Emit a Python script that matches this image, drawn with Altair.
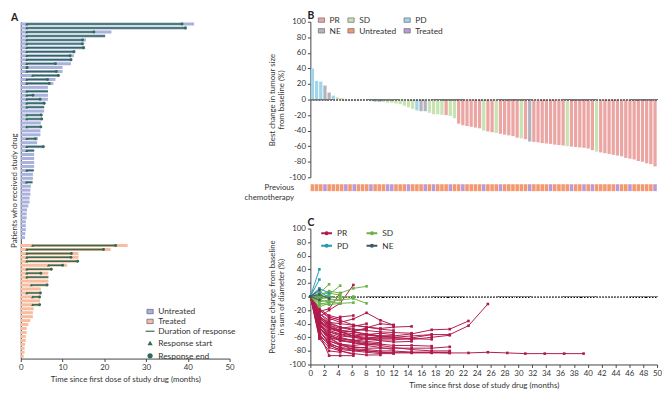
import altair as alt
import pandas as pd

FONT = "Lato"
TXT = "#333333"
GREEN = "#2f6b55"

# ---------------- Panel A data ----------------
untreated_len = [41.5, 39.8, 21.7, 20.2, 15.6, 15.2, 15.4, 13.1, 12.7, 12.3,
                 12.0, 10.0, 10.0, 9.2, 8.3, 7.8, 6.5, 6.5, 6.5, 6.5,
                 5.8, 5.6, 5.6, 5.0, 5.0, 4.8, 4.8, 4.7, 4.7, 4.1,
                 3.9, 5.5, 3.2, 3.2, 3.2, 3.2, 3.2, 3.1, 2.9, 2.9,
                 2.8, 2.4, 2.3, 2.3, 2.1, 2.1, 1.8, 1.5, 1.4, 1.4,
                 1.2, 1.2, 1.2, 1.1, 1.0]
untreated_start = [1.4, 1.4, 1.4, 1.4, 1.4, 1.4, 1.4, 1.4, 1.4, 1.4,
                   1.4, 1.4, 1.4, 2.8, 1.4, 1.4, None, 1.4, 1.4, 1.4,
                   1.4, 1.4, None, 1.4, 1.4, None, 1.4, None, None, 1.4,
                   None, 1.4, 1.4, None, None, None, None, 1.4, None, None,
                   1.3, None, None, None, None, None, None, None, None, None,
                   None, None, None, None, None]
untreated_end = [38.6, 39.4, 17.5, None, 14.8, 14.7, 15.0, 12.7, 11.8, 12.0,
                 8.3, 1.5, 8.5, 9.0, 6.4, 6.8, None, None, 2.9, 4.6,
                 5.6, None, None, 4.9, 5.0, None, 4.8, None, None, 3.5,
                 None, 5.4, None, None, None, None, None, None, None, None,
                 None, None, None, None, None, None, None, None, None, None,
                 None, None, None, None, None]

treated_len = [25.6, 21.5, 13.8, 13.8, 13.7, 11.1, 7.4, 6.6, 6.6, 6.6,
               6.4, 4.8, 4.8, 4.6, 4.6, 4.6, 3.1, 2.9, 2.9, 2.3,
               1.8, 1.4, 1.4, 1.2, 1.2, 1.0, 0.9, 0.9, 0.7]
treated_start = [2.8, 1.4, 1.4, 1.4, 1.4, 6.6, 1.4, 1.4, 1.4, None,
                 2.5, None, 1.4, 2.8, None, 2.8, None, None, None, None,
                 None, None, None, None, None, None, None, None, None]
treated_end = [22.7, 19.8, 12.1, 12.0, 13.6, 10.0, 7.3, 4.8, None, None,
               6.3, None, 4.7, 4.5, None, 4.5, None, None, None, None,
               None, None, None, None, None, None, None, None, None]

# ---------------- Panel B data ----------------
b_vals = [40, 24, 23, 18, 9, 5, 3, 2, 0.6, 0.4, 0.3, -0.3, -0.6, -1,
          -2, -3, -3, -3, -4, -4, -5, -6, -8, -10, -12,
          -14, -15, -15, -17, -19, -19, -19.5, -20, -21, -24,
          -31, -33, -34, -35, -36, -37, -40, -41, -42, -43,
          -44, -45, -46, -47, -49, -50, -51, -54, -54.5, -55,
          -56, -56.5, -57, -58, -58.5, -59, -60, -60.5, -61, -61.5,
          -62, -63, -65, -67, -68, -69, -70, -71, -72, -73,
          -75, -76, -77, -79, -80, -82, -83, -86]
b_cat = (["PD", "PD", "PD", "NE", "NE", "PD", "SD", "SD"]
         + ["SD", "SD", "SD", "SD", "SD", "SD"]
         + ["PD", "PD", "NE", "SD", "SD", "SD", "SD", "SD", "SD", "SD", "SD"]
         + ["PD", "NE", "NE", "SD", "SD", "SD", "SD", "PR", "SD", "SD"]
         + ["PR", "PR", "PR", "PR", "PR", "PR", "SD", "PR", "PR", "SD"]
         + ["PR", "PR", "PR", "PR", "PR", "SD", "PR", "NE", "PR", "PR"]
         + ["PR", "PR", "PR", "PR", "PR", "PR", "SD", "PR", "PR", "PR"]
         + ["PR", "PR", "PR", "SD", "PR", "PR", "PR", "PR", "PR", "PR"]
         + ["PR", "PR", "PR", "PR", "PR", "PR", "PR", "PR"])
chemo_code = list("UUUTUUUUTU" "TUUUTUUUTT" "UUUTUUUTUT" "UUUTUUTUUU"
                  "UTUUUTUUUU" "UUTUUUUTUU" "UUTUUTUTUU" "UUUTUUTUUU" "UUT")

# ---------------- Panel C data ----------------
c_times = [0, 1.3, 2.7, 4.3, 6.2, 8.1, 10.1, 12.0, 14.6, 17.5, 20.1, 22.8,
           25.6, 28.4, 31.0, 33.8, 36.6, 39.4]
c_pr = [
    [0, -40, -60, -70, -78, -80, -82, -83, -83, -83, -83, -83, -82, -83, -84, -84, -84, -84],
    [0, -30, -45, -52, -55, -57, -58, -58, -55, -49, -48, -36],
    [0, -35, -50, -55, -58, -60, -60, -60, -58, -56, -56, -43, -11],
    [0, -45, -62, -70, -74, -76, -76, -76, -76, -76, -74],
    [0, -50, -68, -76, -79, -80, -82, -82, -82, -82, -83],
    [0, -58, -70, -75, -77, -78, -80, -80, -82, -82, -82],
    [0, -45, -60, -65, -66, -70, -72, -75, -78, -80, -80],
    [0, -48, -60, -64, -68, -72, -75, -78],
    [0, -40, -58, -62, -65, -68, -70, -72, -72, -73],
    [0, -35, -48, -52, -58, -62, -62, -62, -63, -60, -57],
    [0, -35, -45, -50, -52, -55, -58, -60, -62, -63],
    [0, -25, -38, -45, -48, -50, -52, -53, -54],
    [0, -30, -38, -40, -42, -45, -47, -45, -44],
    [0, -42, -52, -58, -60, -63, -65, -67, -66],
    [0, -28, -42, -50, -52, -56, -58, -58],
    [0, -20, -32, -38, -33, -24, -35, -42],
    [0, -30, -45, -50, -52, -46, -40, -42],
    [0, -20, -30, -35, -42, -45, -48, -50],
    [0, -38, -46, -52, -58, -56, -54, -56],
    [0, -55, -72, -78, -80, -82, -84, -84],
    [0, -60, -75, -80, -84, -86, -86],
    [0, -38, -55, -65, -68, -70, -70],
    [0, -52, -66, -70, -72, -70],
    [0, -40, -55, -60, -65, -62, -58],
    [0, -45, -65, -72, -75, -75],
    [0, -33, -42, -47, -44, -40],
    [0, -30, -40, -45, -50, -48],
    [0, -50, -70, -80, -85],
    [0, -55, -87, -87, -87],
    [0, -25, -35, -30, -28],
    [0, -22, -18, 5],
    [0, -30, -20, -10, 17],
    [0, -42, -58, -62, -64, -66, -68],
    [0, -36, -52, -56, -60, -62, -64, -64, -61, -56],
    [0, -62, -80, -82],
    [0, -18, -28, -32],
]
c_sd = [
    [0, 5, 18],
    [0, -2, 3, 16],
    [0, 2, 8, 5, 12, 15],
    [0, -8, -5, -4],
    [0, -10, -12, -10, -9],
    [0, -5, -8, -5, -3, -10],
    [0, 3, 5, 2],
    [0, -3, -2, -1, 0],
    [0, -12, -8, -10],
    [0, 2, -2],
    [0, -6, 3],
    [0, -15, -10],
]
c_pd = [[0, 40], [0, 25], [0, 12, 5], [0, 8, -2]]
c_ne = [[0, 10], [0, -5], [0, 3, -3]]

# ---------------- build tables ----------------
rows = []
for i, L in enumerate(untreated_len):
    rows.append(dict(group="Untreated", row=i + 1, len=L,
                     start=untreated_start[i], end=untreated_end[i]))
for j, L in enumerate(treated_len):
    rows.append(dict(group="Treated", row=57 + j, len=L,
                     start=treated_start[j], end=treated_end[j]))
dfa = pd.DataFrame(rows)
dfa["zero"] = 0.0
dfa["y0"] = dfa["row"] - 0.38
dfa["y1"] = dfa["row"] + 0.38
resp = dfa[dfa["start"].notna()].copy()
resp["stop"] = resp["end"].fillna(resp["len"])
p_start = pd.DataFrame(dict(x=resp["start"], row=resp["row"], kind="Response start"))
ends = dfa[dfa["end"].notna()]
p_end = pd.DataFrame(dict(x=ends["end"], row=ends["row"], kind="Response end"))
pts = pd.concat([p_start, p_end], ignore_index=True)

chemo_map = {"U": "Untreated", "T": "Treated"}
dfb = pd.DataFrame(dict(idx=list(range(1, len(b_vals) + 1)), val=b_vals, cat=b_cat,
                        chemo=[chemo_map[c] for c in chemo_code], lab="chemo"))

crow = []
for name, group in (("PR", c_pr), ("SD", c_sd), ("PD", c_pd), ("NE", c_ne)):
    for k, vals in enumerate(group):
        for t, v in zip(c_times, vals):
            crow.append(dict(pid=f"{name}{k:02d}", resp=name, t=t, v=v))
dfc = pd.DataFrame(crow)

# ---------------- Panel A ----------------
xA = alt.Scale(domain=[0, 50], nice=False)
yA = alt.Scale(domain=[0.4, 85.6], reverse=True, nice=False, zero=False)
rect_sym = "M-1,-0.7H1V0.7H-1Z"
dur_sym = "M-1.7,-0.22H1.7V0.22H-1.7Z"

bars_a = alt.Chart(dfa).mark_rect().encode(
    x=alt.X("zero:Q", scale=xA,
            axis=alt.Axis(values=[0, 10, 20, 30, 40, 50], tickCount=6,
                          labelFlush=False, labelOverlap=False,
                          title="Time since first dose of study drug (months)",
                          labelPadding=2, titlePadding=4)),
    x2="len:Q",
    y=alt.Y("y0:Q", scale=yA,
            axis=alt.Axis(title="Patients who received study drug", labels=False,
                          ticks=False, titlePadding=2)),
    y2="y1:Q",
    fill=alt.Fill("group:N",
                  scale=alt.Scale(domain=["Untreated", "Treated"], range=["#a9b1dc", "#f8bc9f"]),
                  legend=alt.Legend(title=None, orient="none", legendX=127, legendY=290,
                                    symbolType=rect_sym, symbolSize=40, rowPadding=1,
                                    labelFontSize=8.5,
                                    symbolStrokeColor="#6b6b8c", symbolStrokeWidth=0.8)),
)
rules_a = alt.Chart(resp).mark_rule(color=GREEN, strokeWidth=1.5).encode(
    x=alt.X("start:Q", scale=xA), x2="stop:Q", y=alt.Y("row:Q", scale=yA))
pts_a = alt.Chart(pts).mark_point(filled=True, color=GREEN, size=9, opacity=1).encode(
    x=alt.X("x:Q", scale=xA), y=alt.Y("row:Q", scale=yA),
    shape=alt.Shape("kind:N",
                    scale=alt.Scale(domain=["Duration of response", "Response start", "Response end"],
                                    range=[dur_sym, "triangle-up", "circle"]),
                    legend=alt.Legend(title=None, orient="none", legendX=127, legendY=310,
                                      symbolSize=28, rowPadding=1, labelFontSize=8.5,
                                      symbolFillColor=GREEN)),
)
panel_a = alt.layer(bars_a, rules_a, pts_a).properties(
    width=212, height=342,
    title=alt.TitleParams("A", anchor="start", frame="bounds", offset=-2))

# ---------------- Panel B ----------------
ylabels = "toString(datum.value)"
yvals = list(range(-100, 101, 20))
bars_b = alt.Chart(dfb).mark_bar().encode(
    x=alt.X("idx:O", axis=None, scale=alt.Scale(paddingInner=0.22, paddingOuter=0.1)),
    y=alt.Y("val:Q", scale=alt.Scale(domain=[-100, 100], nice=False),
            axis=alt.Axis(values=yvals, tickCount=len(yvals), labelExpr=ylabels,
                          labelOverlap=False, labelFlush=False,
                          title=["Best change in tumour size", "from baseline (%)"],
                          titlePadding=3, labelPadding=2)),
    fill=alt.Fill("cat:N",
                  scale=alt.Scale(domain=["PR", "SD", "PD", "NE", "Untreated", "Treated"],
                                  range=["#eba6a4", "#c9e2b1", "#9fd6ea", "#b3b2be", "#f4986f", "#bb9ad8"]),
                  legend=alt.Legend(title=None, orient="none", legendX=7, legendY=-6, columns=3,
                                    direction="horizontal",
                                    symbolType=rect_sym, symbolSize=40, rowPadding=2,
                                    columnPadding=5, labelFontSize=8.5,
                                    symbolStrokeColor="#777777", symbolStrokeWidth=0.8)),
)
zero_b = alt.Chart(dfb).mark_rule(color="#777777", strokeDash=[1.5, 1.5], strokeWidth=0.9).encode(
    y=alt.datum(0))
panel_b = alt.layer(bars_b, zero_b).properties(
    width=352, height=158,
    title=alt.TitleParams("B", anchor="start", frame="group", dx=-3, offset=-6))

strip = alt.Chart(dfb).mark_rect().encode(
    x=alt.X("idx:O", axis=None, scale=alt.Scale(paddingInner=0.15, paddingOuter=0.065)),
    y=alt.Y("lab:N", axis=alt.Axis(title=["Previous", "chemotherapy"], titleAngle=0,
                                   titleAlign="right", titleBaseline="middle",
                                   titleX=-17, titleY=3.5, titleLineHeight=10,
                                   labels=False, ticks=False, domain=False)),
    fill=alt.Fill("chemo:N",
                  scale=alt.Scale(domain=["Untreated", "Treated"], range=["#f4986f", "#bb9ad8"]),
                  legend=None),
).properties(width=352, height=7)

# ---------------- Panel C ----------------
xC = alt.Scale(domain=[0, 50], nice=False)
yC = alt.Scale(domain=[-100, 100], nice=False)
xvals = list(range(0, 51, 2))
c_colors = alt.Scale(domain=["PR", "SD", "PD", "NE"],
                     range=["#b01a4c", "#6cb246", "#2399b8", "#3f5866"])
line_sym = "M-1,0H1M-0.2,0A0.2,0.2,0,1,1,0.2,0A0.2,0.2,0,1,1,-0.2,0Z"
lines_c = alt.Chart(dfc).mark_line(strokeWidth=1).encode(
    x=alt.X("t:Q", scale=xC,
            axis=alt.Axis(values=xvals, tickCount=len(xvals), labelOverlap=False,
                          labelFlush=False,
                          title="Time since first dose of study drug (months)",
                          labelPadding=2, titlePadding=4)),
    y=alt.Y("v:Q", scale=yC,
            axis=alt.Axis(values=yvals, tickCount=len(yvals), labelExpr=ylabels,
                          labelOverlap=False, labelFlush=False,
                          title=["Percentage change from baseline", "in sum of diameter (%)"],
                          titlePadding=3, labelPadding=2)),
    color=alt.Color("resp:N", scale=c_colors,
                    legend=alt.Legend(title=None, orient="none", legendX=10, legendY=-2, columns=2,
                                      direction="horizontal",
                                      symbolType=line_sym, symbolSize=120, symbolStrokeWidth=2,
                                      rowPadding=1, columnPadding=14, labelFontSize=8.5)),
    detail="pid:N",
    order="t:Q",
)
pts_c = alt.Chart(dfc).mark_point(shape="square", filled=True, size=7, opacity=1).encode(
    x=alt.X("t:Q", scale=xC), y=alt.Y("v:Q", scale=yC),
    color=alt.Color("resp:N", scale=c_colors),
)
zero_c = alt.Chart(dfc).mark_rule(color="#888888", strokeDash=[1.5, 1.5], strokeWidth=0.9).encode(
    y=alt.datum(0))
panel_c = alt.layer(zero_c, lines_c, pts_c).properties(
    width=352, height=138,
    title=alt.TitleParams("C", anchor="start", frame="group", dx=-3, offset=-4))

# ---------------- assemble ----------------
col_b = alt.vconcat(panel_b, strip, spacing=2).resolve_scale(fill="independent")
right = alt.vconcat(col_b, panel_c, spacing=16).resolve_scale(fill="independent",
                                                              color="independent")
chart = alt.hconcat(panel_a, right, spacing=7).resolve_scale(
    fill="independent", shape="independent", color="independent"
).properties(padding={"left": 3, "top": 0, "right": 0, "bottom": 0}).configure(
    font=FONT
).configure_axis(
    labelFont=FONT, titleFont=FONT, labelFontSize=8, titleFontSize=8,
    labelColor=TXT, titleColor=TXT, titleFontWeight="normal",
    domainColor="#444444", tickColor="#444444", tickSize=3, grid=False
).configure_view(stroke=None).configure_title(
    font=FONT, fontSize=10.5, fontWeight="bold", color="#222222", offset=0
).configure_legend(labelFont=FONT, labelFontSize=8, labelColor=TXT)

chart.save("out.html", embed_options={"renderer": "svg", "actions": False})
